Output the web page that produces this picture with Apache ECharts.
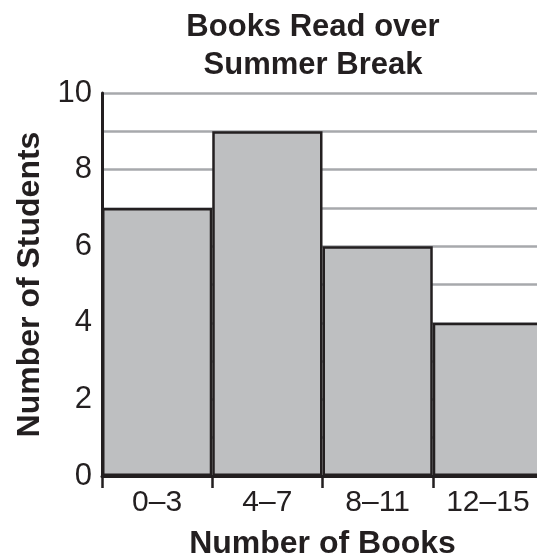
<!DOCTYPE html>
<html>
<head>
<meta charset="utf-8">
<script src="https://cdn.jsdelivr.net/npm/echarts@6/dist/echarts.min.js"></script>
<style>html,body{margin:0;padding:0;background:#fff}#c{width:537px;height:560px}</style>
</head>
<body>
<div id="c"></div>
<script>
const categories = ['0–3', '4–7', '8–11', '12–15'];
const students = [7, 9, 6, 4];
const yTicks = [0, 2, 4, 6, 8, 10];

const FONT = '"Liberation Sans", Arial, Helvetica, sans-serif';
const INK = '#231f20';
const chart = echarts.init(document.getElementById('c'), null, {renderer: 'canvas'});
chart.setOption({
  animation: false,
  backgroundColor: '#ffffff',
  title: {
    text: 'Books Read over\nSummer Break',
    left: 308,
    textAlign: 'center',
    top: 3,
    textStyle: {fontFamily: FONT, fontWeight: 'bold', fontSize: 31, lineHeight: 38, color: INK}
  },
  grid: {left: 102, top: 93, width: 441, bottom: 84, containLabel: false, outerBoundsMode: 'none'},
  xAxis: {
    type: 'category',
    data: categories,
    boundaryGap: true,
    name: 'Number of Books',
    nameLocation: 'middle',
    nameGap: 52,
    nameTextStyle: {fontFamily: FONT, fontWeight: 'bold', fontSize: 32, color: INK},
    axisLine: {show: true, lineStyle: {color: INK, width: 3}},
    axisTick: {show: true, alignWithLabel: false, length: 12, lineStyle: {color: INK, width: 2.5}},
    axisLabel: {fontFamily: FONT, fontSize: 30, color: INK, margin: 12},
    splitLine: {show: false}
  },
  yAxis: {
    type: 'value',
    min: 0,
    max: 10,
    interval: 1,
    name: 'Number of Students',
    nameLocation: 'middle',
    nameGap: 52,
    nameTextStyle: {fontFamily: FONT, fontWeight: 'bold', fontSize: 32, color: INK},
    axisLine: {show: true, lineStyle: {color: INK, width: 3}},
    axisTick: {show: false},
    axisLabel: {
      fontFamily: FONT, fontSize: 31, color: INK, margin: 10,
      formatter: v => yTicks.includes(v) ? String(v) : ''
    },
    splitLine: {show: true, lineStyle: {color: '#a7a9ac', width: 2.5}}
  },
  series: [{
    type: 'bar',
    data: students,
    barCategoryGap: '0%',
    itemStyle: {color: '#bebfc1', borderColor: INK, borderWidth: 2.5},
    emphasis: {disabled: true}
  }]
});
</script>
</body>
</html>
